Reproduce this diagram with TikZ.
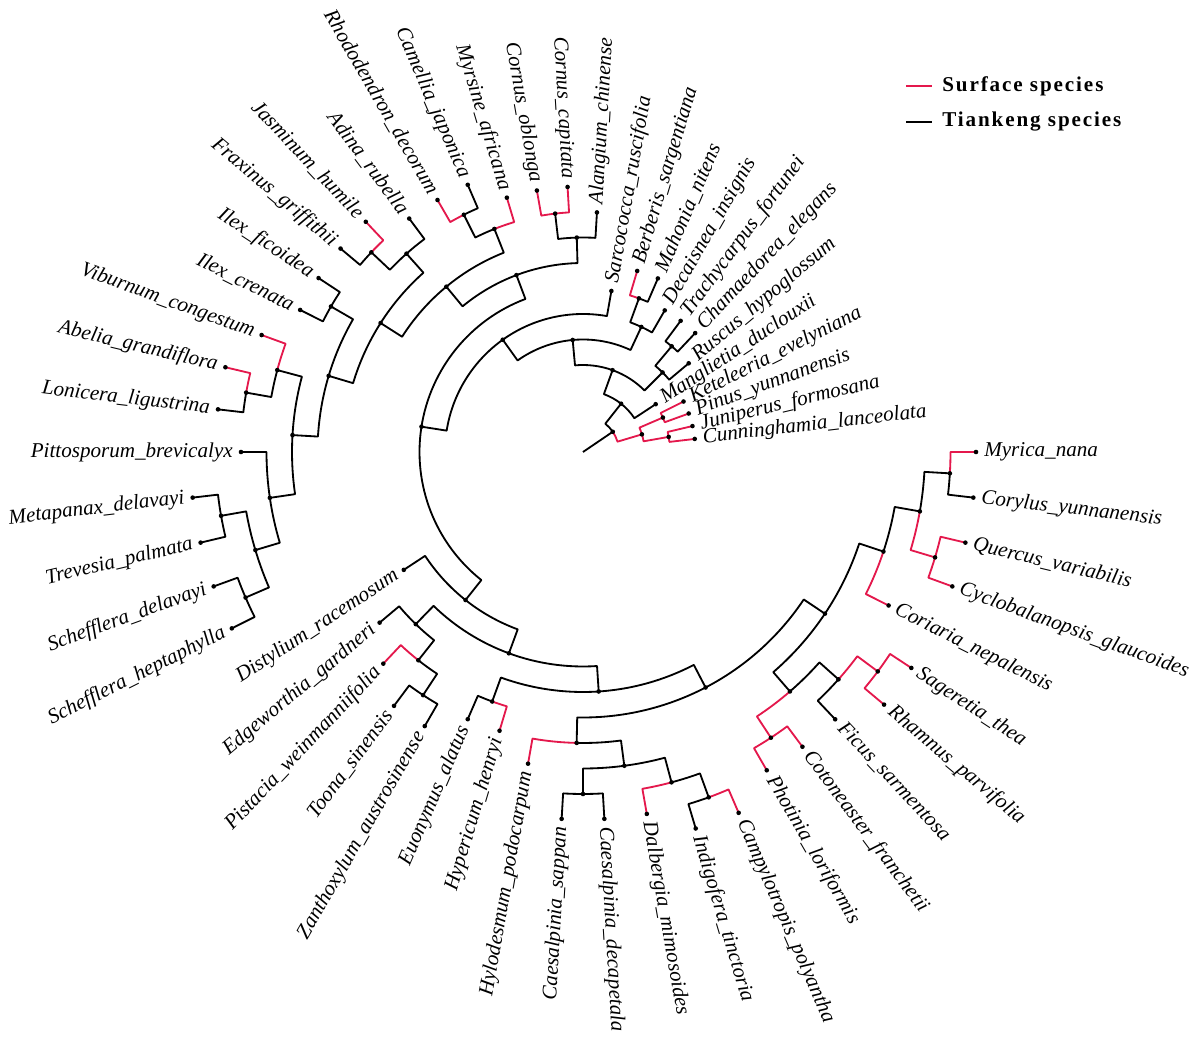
\documentclass[tikz,border=0pt]{standalone}
\usepackage{fontspec}
\setmainfont{Liberation Serif}
\usepackage{tikz}
\definecolor{surf}{RGB}{228,24,76}
\tikzset{x=0.025cm, y=0.025cm,
         branch/.style={line width=1.3pt, line join=round},
         red branch/.style={branch, draw=surf},
         tiplab/.style={font=\fontsize{15}{18}\selectfont\itshape, inner sep=0pt},
         legend line/.style={line width=1.1pt},
         legend text/.style={font=\fontsize{15}{18}\selectfont\bfseries\addfontfeature{LetterSpace=9},
                             anchor=west, inner sep=0pt},
         }
% node on level #3 at angle #2
\newcommand{\nd}[3]{%
  \coordinate (#1) at ({#2}:{10.5+25.5*#3});%
  \expandafter\xdef\csname ang#1\endcsname{#2}%
  \expandafter\xdef\csname dep#1\endcsname{#3}}
% branch: arc on the parent's level, then out to the child
\newcommand{\br}[3][branch]{%
  \draw[#1] (#2) arc[start angle=\csname ang#2\endcsname, end angle=\csname ang#3\endcsname,
                     radius={10.5+25.5*\csname dep#2\endcsname}] -- (#3);}
% tip label, turned over on the left half
\newcommand{\lab}[2]{%
  \pgfmathsetmacro\la{\csname ang#1\endcsname}%
  \pgfmathsetmacro\lr{18.5+25.5*\csname dep#1\endcsname}%
  \ifdim\la pt>90pt
    \ifdim\la pt<270pt
      \node[tiplab, anchor=east, rotate=\la-180] (t#1) at (\la:\lr) {#2};
    \else
      \node[tiplab, anchor=west, rotate=\la] (t#1) at (\la:\lr) {#2};
    \fi
  \else
    \node[tiplab, anchor=west, rotate=\la] (t#1) at (\la:\lr) {#2};
  \fi}

\begin{document}
\begin{tikzpicture}
    \path[fill=white, use as bounding box] (-583,-591) rectangle (617,452);

    \coordinate (O) at (0,0);
    \nd{Root}{34.201}{1}
    \nd{Con}{16.667}{2}  \nd{CJ}{10}{3}  \nd{PK}{23.333}{3}
    \nd{Cunn}{6.667}{4}  \nd{Juni}{13.333}{4}  \nd{Pinu}{20}{4}  \nd{Kete}{26.667}{4}
    \nd{B}{51.735}{2}  \nd{Mang}{33.333}{3}  \nd{C}{70.137}{3}
    \nd{M}{45}{4}  \nd{Rusc}{40}{5}  \nd{CT}{50}{5}  \nd{Cham}{46.667}{6}  \nd{Trac}{53.333}{6}
    \nd{D}{95.273}{4}  \nd{Ra}{65}{5}  \nd{Deca}{60}{6}  \nd{MB}{70}{6}
    \nd{Maho}{66.667}{7}  \nd{Berb}{73.333}{7}
    \nd{E}{125.547}{5}  \nd{Sarc}{80}{6}  \nd{F}{171.094}{6}
    % asterids
    \nd{As}{110.625}{7}  \nd{Co}{91.667}{8}  \nd{Alan}{86.667}{9}  \nd{CC}{96.667}{9}
    \nd{Ccap}{93.333}{10}  \nd{Cobl}{100}{10}
    \nd{X}{129.583}{8}  \nd{Er}{111.667}{9}  \nd{Myrs}{106.667}{10}  \nd{CR}{116.667}{10}
    \nd{Came}{113.333}{11}  \nd{Rhod}{120}{11}
    \nd{Y}{147.5}{9}  \nd{Lm}{131.667}{10}  \nd{Adin}{126.667}{11}  \nd{JF}{136.667}{11}
    \nd{Jasm}{133.333}{12}  \nd{Frax}{140}{12}
    \nd{Ca}{163.333}{10}  \nd{IL}{150}{11}  \nd{Ific}{146.667}{12}  \nd{Icre}{153.333}{12}
    \nd{DA}{176.667}{11}  \nd{Dp}{165}{12}  \nd{Vibu}{160}{13}  \nd{AL}{170}{13}
    \nd{Abel}{166.667}{14}  \nd{Loni}{173.333}{14}
    \nd{Ap}{188.333}{12}  \nd{Pitt}{180}{13}  \nd{Ar}{196.667}{13}
    \nd{MT}{190}{14}  \nd{Meta}{186.667}{15}  \nd{Trev}{193.333}{15}
    \nd{SS}{203.333}{14}  \nd{Sdel}{200}{15}  \nd{Shep}{206.667}{15}
    % rosids
    \nd{Ro}{231.563}{7}  \nd{Dist}{213.333}{8}  \nd{Rs}{249.792}{8}
    \nd{MS}{225.833}{9}  \nd{Edge}{220}{10}  \nd{Sa}{231.667}{10}  \nd{Pist}{226.667}{11}
    \nd{TZ}{236.667}{11}  \nd{Toon}{233.333}{12}  \nd{Zant}{240}{12}
    \nd{K}{273.75}{9}  \nd{EH}{250}{10}  \nd{Euon}{246.667}{11}  \nd{Hype}{253.333}{11}
    \nd{J}{297.5}{10}  \nd{Fa}{268.75}{11}  \nd{Hylo}{260}{12}  \nd{Fr}{277.5}{12}
    \nd{Cs}{270}{13}  \nd{Csap}{266.667}{14}  \nd{Cdec}{273.333}{14}
    \nd{DIC}{285}{13}  \nd{Dalb}{280}{14}  \nd{IC}{290}{14}  \nd{Indi}{286.667}{15}  \nd{Camp}{293.333}{15}
    \nd{G}{326.25}{11}  \nd{H}{310.833}{12}  \nd{PC}{303.333}{13}  \nd{Phot}{300}{14}  \nd{Coto}{306.667}{14}
    \nd{I}{318.333}{13}  \nd{Ficu}{313.333}{14}  \nd{RS}{323.333}{14}  \nd{Rham}{320}{15}  \nd{Sage}{326.667}{15}
    \nd{CF}{341.667}{12}  \nd{Cori}{333.333}{13}  \nd{Fg}{350}{13}
    \nd{QC}{343.333}{14}  \nd{Cycl}{340}{15}  \nd{Quer}{346.667}{15}
    \nd{MC}{356.667}{14}  \nd{Cory}{353.333}{15}  \nd{Myri}{360}{15}

    \draw[branch] (O) -- (Root);
    \br[red branch]{Root}{Con}  \br{Root}{B}
    \br[red branch]{Con}{CJ}  \br[red branch]{Con}{PK}
    \br[red branch]{CJ}{Cunn}  \br[red branch]{CJ}{Juni}
    \br[red branch]{PK}{Pinu}  \br[red branch]{PK}{Kete}
    \br{B}{Mang}  \br{B}{C}  \br{C}{M}  \br{C}{D}
    \br{M}{Rusc}  \br{M}{CT}  \br{CT}{Cham}  \br{CT}{Trac}
    \br{D}{Ra}  \br{D}{E}  \br{Ra}{Deca}  \br{Ra}{MB}  \br{MB}{Maho}  \br[red branch]{MB}{Berb}
    \br{E}{Sarc}  \br{E}{F}  \br{F}{As}  \br{F}{Ro}
    \br{As}{Co}  \br{As}{X}  \br{Co}{Alan}  \br{Co}{CC}
    \br[red branch]{CC}{Ccap}  \br[red branch]{CC}{Cobl}
    \br{X}{Er}  \br{X}{Y}  \br[red branch]{Er}{Myrs}  \br{Er}{CR}
    \br{CR}{Came}  \br[red branch]{CR}{Rhod}
    \br{Y}{Lm}  \br{Y}{Ca}  \br{Lm}{Adin}  \br{Lm}{JF}  \br[red branch]{JF}{Jasm}  \br{JF}{Frax}
    \br{Ca}{IL}  \br{Ca}{DA}  \br{IL}{Ific}  \br{IL}{Icre}
    \br{DA}{Dp}  \br{DA}{Ap}  \br[red branch]{Dp}{Vibu}  \br{Dp}{AL}
    \br[red branch]{AL}{Abel}  \br{AL}{Loni}
    \br{Ap}{Pitt}  \br{Ap}{Ar}  \br{Ar}{MT}  \br{Ar}{SS}
    \br{MT}{Meta}  \br{MT}{Trev}  \br{SS}{Sdel}  \br{SS}{Shep}
    \br{Ro}{Dist}  \br{Ro}{Rs}  \br{Rs}{MS}  \br{Rs}{K}
    \br{MS}{Edge}  \br{MS}{Sa}  \br[red branch]{Sa}{Pist}  \br{Sa}{TZ}  \br{TZ}{Toon}  \br{TZ}{Zant}
    \br{K}{EH}  \br{K}{J}  \br{EH}{Euon}  \br[red branch]{EH}{Hype}
    \br{J}{Fa}  \br{J}{G}  \br[red branch]{Fa}{Hylo}  \br{Fa}{Fr}
    \br{Fr}{Cs}  \br{Fr}{DIC}  \br{Cs}{Csap}  \br{Cs}{Cdec}
    \br[red branch]{DIC}{Dalb}  \br{DIC}{IC}  \br{IC}{Indi}  \br[red branch]{IC}{Camp}
    \br{G}{H}  \br{G}{CF}
    \br[red branch]{H}{PC}  \br{H}{I}  \br[red branch]{PC}{Phot}  \br[red branch]{PC}{Coto}
    \br{I}{Ficu}  \br[red branch]{I}{RS}  \br[red branch]{RS}{Rham}  \br[red branch]{RS}{Sage}
    \br[red branch]{CF}{Cori}  \br{CF}{Fg}
    \br[red branch]{Fg}{QC}  \br{Fg}{MC}  \br[red branch]{QC}{Cycl}  \br[red branch]{QC}{Quer}
    \br{MC}{Cory}  \br[red branch]{MC}{Myri}

    \foreach \n in {Root,Con,CJ,PK,Cunn,Juni,Pinu,Kete,B,Mang,C,M,Rusc,CT,Cham,Trac,
                    D,Ra,Deca,MB,Maho,Berb,E,Sarc,F,As,Co,Alan,CC,Ccap,Cobl,X,Er,Myrs,CR,
                    Came,Rhod,Y,Lm,Adin,JF,Jasm,Frax,Ca,IL,Ific,Icre,DA,Dp,Vibu,AL,Abel,Loni,
                    Ap,Pitt,Ar,MT,Meta,Trev,SS,Sdel,Shep,Ro,Dist,Rs,MS,Edge,Sa,Pist,TZ,Toon,
                    Zant,K,EH,Euon,Hype,J,Fa,Hylo,Fr,Cs,Csap,Cdec,DIC,Dalb,IC,Indi,Camp,
                    G,H,PC,Phot,Coto,I,Ficu,RS,Rham,Sage,CF,Cori,Fg,QC,Cycl,Quer,MC,Cory,Myri}
        \fill (\n) circle[radius=2.3];

    \lab{Cunn}{Cunninghamia\_lanceolata}  \lab{Juni}{Juniperus\_formosana}
    \lab{Pinu}{Pinus\_yunnanensis}  \lab{Kete}{Keteleeria\_evelyniana}
    \lab{Mang}{Manglietia\_duclouxii}  \lab{Rusc}{Ruscus\_hypoglossum}
    \lab{Cham}{Chamaedorea\_elegans}  \lab{Trac}{Trachycarpus\_fortunei}
    \lab{Deca}{Decaisnea\_insignis}  \lab{Maho}{Mahonia\_nitens}
    \lab{Berb}{Berberis\_sargentiana}  \lab{Sarc}{Sarcococca\_ruscifolia}
    \lab{Alan}{Alangium\_chinense}  \lab{Ccap}{Cornus\_capitata}
    \lab{Cobl}{Cornus\_oblonga}  \lab{Myrs}{Myrsine\_africana}
    \lab{Came}{Camellia\_japonica}  \lab{Rhod}{Rhododendron\_decorum}
    \lab{Adin}{Adina\_rubella}  \lab{Jasm}{Jasminum\_humile}
    \lab{Frax}{Fraxinus\_griffithii}  \lab{Ific}{Ilex\_ficoidea}
    \lab{Icre}{Ilex\_crenata}  \lab{Vibu}{Viburnum\_congestum}
    \lab{Abel}{Abelia\_grandiflora}  \lab{Loni}{Lonicera\_ligustrina}
    \lab{Pitt}{Pittosporum\_brevicalyx}  \lab{Meta}{Metapanax\_delavayi}
    \lab{Trev}{Trevesia\_palmata}  \lab{Sdel}{Schefflera\_delavayi}
    \lab{Shep}{Schefflera\_heptaphylla}  \lab{Dist}{Distylium\_racemosum}
    \lab{Edge}{Edgeworthia\_gardneri}  \lab{Pist}{Pistacia\_weinmanniifolia}
    \lab{Toon}{Toona\_sinensis}  \lab{Zant}{Zanthoxylum\_austrosinense}
    \lab{Euon}{Euonymus\_alatus}  \lab{Hype}{Hypericum\_henryi}
    \lab{Hylo}{Hylodesmum\_podocarpum}  \lab{Csap}{Caesalpinia\_sappan}
    \lab{Cdec}{Caesalpinia\_decapetala}  \lab{Dalb}{Dalbergia\_mimosoides}
    \lab{Indi}{Indigofera\_tinctoria}  \lab{Camp}{Campylotropis\_polyantha}
    \lab{Phot}{Photinia\_loriformis}  \lab{Coto}{Cotoneaster\_franchetii}
    \lab{Ficu}{Ficus\_sarmentosa}  \lab{Rham}{Rhamnus\_parvifolia}
    \lab{Sage}{Sageretia\_thea}  \lab{Cori}{Coriaria\_nepalensis}
    \lab{Cycl}{Cyclobalanopsis\_glaucoides}  \lab{Quer}{Quercus\_variabilis}
    \lab{Cory}{Corylus\_yunnanensis}  \lab{Myri}{Myrica\_nana}

    % legend
    \coordinate (sf1) at (323,366);  \coordinate (sf2) at (349,366);
    \coordinate (tk1) at (323,330);  \coordinate (tk2) at (349,330);
    \draw[legend line, surf] (sf1) -- (sf2);
    \draw[legend line] (tk1) -- (tk2);
    \node[legend text] (surfLab) at (359,366) {Surface species};
    \node[legend text] (tianLab) at (359,330) {Tiankeng species};
\end{tikzpicture}
\end{document}
